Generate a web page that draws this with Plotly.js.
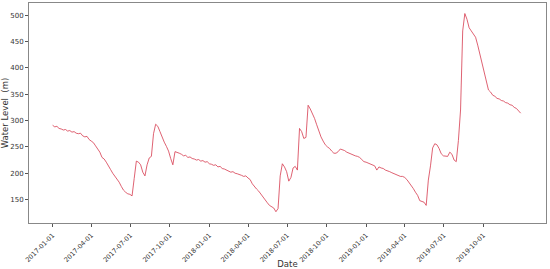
<!DOCTYPE html>
<html>
<head>
<meta charset="utf-8">
<script src="https://cdn.plot.ly/plotly-3.0.1.min.js"></script>
<style>
  html, body { margin: 0; padding: 0; background: #fff; }
  #plot { width: 550px; height: 269px; }
</style>
</head>
<body>
<div id="plot"></div>
<script>
// readings every 5 days starting 2017-01-01
const startDate = '2017-01-01';
const stepDays = 5;
const waterLevel = [
  291, 288, 289, 285, 284, 282, 283, 280, 281, 278,
  279, 276, 275, 276, 271, 269, 270, 264, 261, 258,
  252, 247, 240, 230, 227, 221, 215, 207, 200, 195,
  188, 183, 175, 168, 164, 161, 160, 157, 190, 223,
  221, 216, 202, 195, 216, 229, 232, 275, 293, 289,
  279, 267, 259, 251, 242, 228, 216, 241, 240, 238,
  236, 233, 234, 230, 231, 228, 227, 225, 226, 223,
  224, 221, 222, 218, 217, 215, 216, 212, 213, 209,
  208, 206, 205, 202, 203, 200, 199, 198, 196, 194,
  195, 191, 188, 180, 174, 170, 166, 160, 155, 149,
  144, 139, 137, 134, 127, 133, 195, 218, 212, 203,
  185, 192, 210, 213, 206, 285, 279, 266, 268, 329,
  322, 314, 304, 292, 280, 269, 261, 254, 250, 247,
  242, 238, 238, 241, 246, 245, 243, 240, 238, 236,
  235, 233, 232, 230, 226, 222, 221, 219, 218, 215,
  214, 206, 212, 210, 209, 206, 205, 203, 201, 199,
  197, 196, 194, 194, 192, 188, 183, 177, 171, 164,
  158, 148, 146, 145, 139, 187, 214, 248, 256, 254,
  247, 237, 233, 232, 232, 240, 236, 225, 222, 262,
  320, 470, 503, 492, 476, 470, 465, 458, 443, 426,
  405, 386, 370, 358, 354, 348, 346, 342, 341, 338,
  337, 334, 333, 330, 329, 325, 323, 318, 314
];
const tickDates = [
  '2017-01-01', '2017-04-01', '2017-07-01', '2017-10-01',
  '2018-01-01', '2018-04-01', '2018-07-01', '2018-10-01',
  '2019-01-01', '2019-04-01', '2019-07-01', '2019-10-01'
];
const yTicks = [150, 200, 250, 300, 350, 400, 450, 500];

const t0 = new Date(startDate + 'T00:00:00Z').getTime();
const dates = waterLevel.map((v, i) =>
  new Date(t0 + i * stepDays * 86400000).toISOString().slice(0, 10));

const trace = {
  x: dates,
  y: waterLevel,
  type: 'scatter',
  mode: 'lines',
  line: { color: '#d63a4e', width: 0.8 }
};

const layout = {
  width: 550,
  height: 269,
  margin: { l: 29, r: 4, t: 3, b: 46 },
  paper_bgcolor: '#fff',
  plot_bgcolor: '#fff',
  showlegend: false,
  font: { family: 'DejaVu Sans', size: 7, color: '#333' },
  xaxis: {
    type: 'date',
    range: ['2016-11-07', '2020-02-24'],
    tickvals: tickDates,
    ticktext: tickDates,
    tickangle: -45,
    ticks: 'outside',
    ticklen: 3,
    tickcolor: '#555',
    ticklabelstandoff: 2,
    showgrid: false,
    zeroline: false,
    showline: true,
    mirror: true,
    linecolor: '#888',
    linewidth: 1,
    tickfont: { size: 6.5 },
    title: { text: 'Date', font: { size: 8.5 }, standoff: 3 }
  },
  yaxis: {
    range: [105.6, 523],
    tickvals: yTicks,
    ticks: 'outside',
    ticklen: 3,
    tickcolor: '#555',
    showgrid: false,
    zeroline: false,
    showline: true,
    mirror: true,
    linecolor: '#888',
    linewidth: 1,
    tickfont: { size: 7 },
    title: { text: 'Water Level  (m)', font: { size: 8.5 }, standoff: 3 }
  }
};

Plotly.newPlot('plot', [trace], layout, { displayModeBar: false, staticPlot: true });
</script>
</body>
</html>
